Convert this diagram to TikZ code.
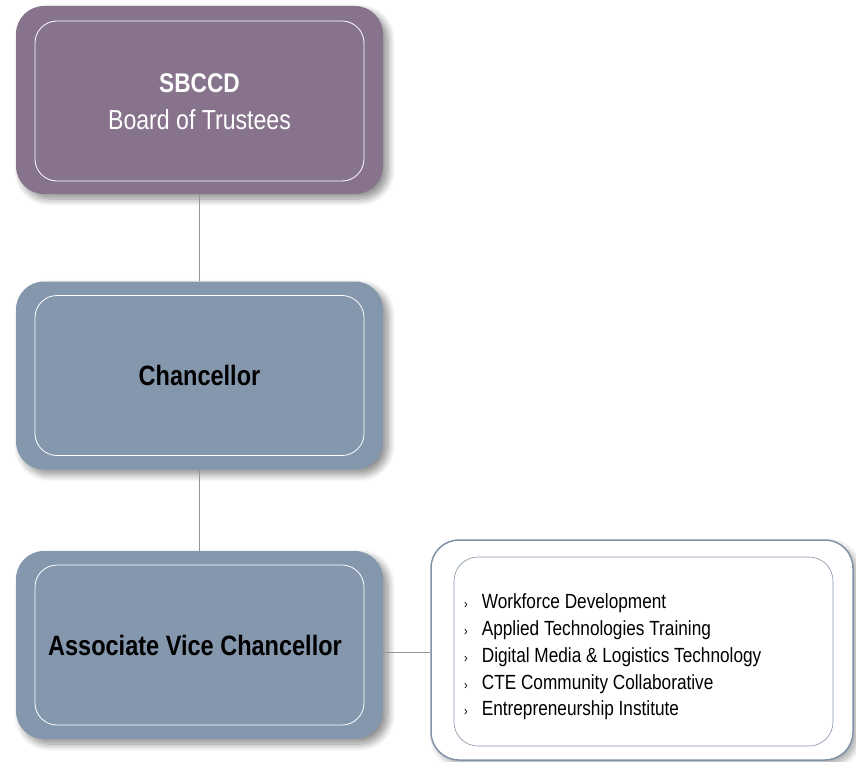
\documentclass[tikz,border=0pt]{standalone}
\usepackage{fontspec}
\setmainfont{Liberation Sans}[FakeStretch=0.84]
\usetikzlibrary{shadows.blur}
\definecolor{plum}{RGB}{135,115,140}
\definecolor{slate}{RGB}{132,151,172}
\definecolor{edge}{RGB}{130,146,168}
\definecolor{conn}{RGB}{150,150,150}
\tikzset{
  outerbox/.style={rectangle, rounded corners=28pt, minimum width=367pt, minimum height=188pt, inner sep=0pt,
    blur shadow={shadow xshift=5pt, shadow yshift=-5pt, shadow blur radius=7pt, shadow blur steps=10, shadow opacity=45}},
  innerbox/.style={rectangle, draw=white, line width=0.8pt, rounded corners=22pt, minimum width=329pt, minimum height=160pt, inner sep=0pt, align=center},
  conn/.style={draw=conn, line width=0.8pt}
}
\begin{document}
\begin{tikzpicture}[x=1pt,y=-1pt]
\useasboundingbox (0,0) rectangle (856,762);
% boxes
\node[outerbox, fill=plum] (board) at (199.5,100) {};
\node[innerbox, text=white, font=\fontsize{27.5}{38}\selectfont] (boardin) at (199.5,101) {};
\node[text=white, inner sep=0pt, font=\fontsize{27}{38}\selectfont\bfseries] (boardt1) at (199.5,83) {SBCCD};
\node[text=white, inner sep=0pt, font=\fontsize{27.5}{38}\selectfont] (boardt2) at (199.5,120) {Board of Trustees};
\node[outerbox, fill=slate] (chan) at (199.5,375.5) {};
\node[innerbox, font=\fontsize{28}{34}\selectfont\bfseries] (chanin) at (199.5,375.5) {Chancellor};
\node[outerbox, fill=slate] (avc) at (199.5,645) {};
\node[innerbox] (avcin) at (199.5,645) {};
\node[inner sep=0pt, font=\fontsize{28}{34}\selectfont\bfseries] (avct) at (195,645) {Associate Vice Chancellor};
\node[rectangle, draw=edge, line width=1.5pt, fill=white, rounded corners=28pt, minimum width=422pt, minimum height=220pt, inner sep=0pt,
  blur shadow={shadow xshift=4pt, shadow yshift=-4pt, shadow blur radius=6pt, shadow blur steps=10, shadow opacity=35}] (list) at (642,650) {};
\node[rectangle, draw=edge, line width=0.6pt, rounded corners=24pt, minimum width=379pt, minimum height=189pt, inner sep=0pt] (listin) at (643.5,651.5) {};
\node[anchor=west, inner sep=0pt, align=left] (items) at (464,657) {%
  \fontsize{20.5}{26.7}\selectfont
  \begin{tabular}{@{}l@{\hspace{14pt}}l@{}}
  {\fontsize{13}{26.7}\selectfont ›} & Workforce Development\\
  {\fontsize{13}{26.7}\selectfont ›} & Applied Technologies Training\\
  {\fontsize{13}{26.7}\selectfont ›} & Digital Media \& Logistics Technology\\
  {\fontsize{13}{26.7}\selectfont ›} & CTE Community Collaborative\\
  {\fontsize{13}{26.7}\selectfont ›} & Entrepreneurship Institute
  \end{tabular}};
% connectors
\draw[conn] (board.south) -- (chan.north);
\draw[conn] (chan.south) -- (avc.north);
\draw[conn] (avc.east |- 0,652) coordinate (a) -- (list.west |- a);
\end{tikzpicture}
\end{document}
